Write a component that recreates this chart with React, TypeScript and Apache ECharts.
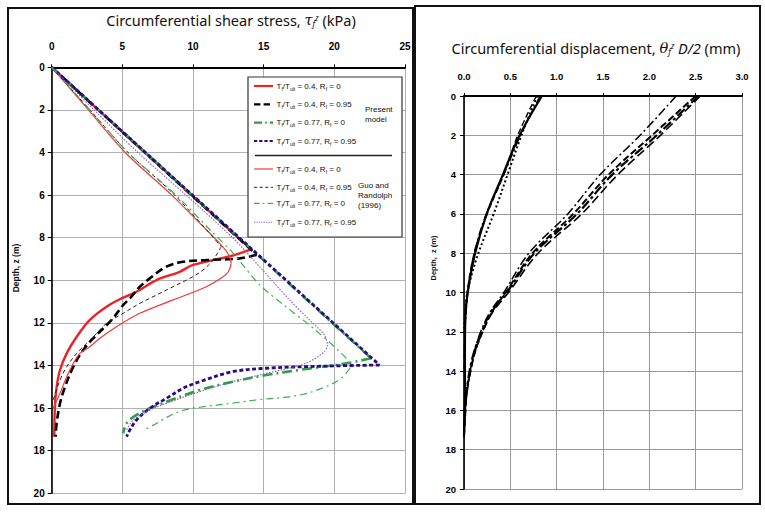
import React, { useEffect, useRef } from "react";
import * as echarts from "echarts";

// ---------- axis ranges ----------
const shearMin = 0, shearMax = 25, shearStep = 5;
const dispMin = 0, dispMax = 3, dispStep = 0.5;
const depthMin = 0, depthMax = 20, depthStep = 2;

// ---------- left panel: circumferential shear stress [tau (kPa), depth (m)] ----------
const present04Rf0 = [[0,0],[14.1,8.55],[12.7,8.86],[10.0,9.28],[9.06,9.6],[7.42,9.99],[6.0,10.54],[4.94,10.85],[3.88,11.24],[2.7,11.86],[1.77,12.65],[1.06,13.43],[0.59,14.21],[0.35,15.0],[0.23,15.93],[0.18,17.34]];
const present04Rf095 = [[0,0],[14.5,8.8],[13.3,8.97],[11.0,9.05],[9.29,9.13],[8.12,9.36],[6.94,9.91],[6.24,10.3],[5.53,10.85],[5.06,11.16],[4.24,11.86],[2.94,12.72],[2.23,13.27],[1.53,14.06],[0.94,15.0],[0.59,15.77],[0.35,16.71],[0.28,17.34]];
const present077Rf0 = [[0,0],[22.6,13.66],[20.83,13.9],[17.53,14.21],[15.18,14.45],[12.82,14.76],[10.47,15.15],[8.12,15.7],[6.94,16.01],[6.0,16.32],[5.3,16.71],[5.06,17.18]];
const present077Rf095 = [[0,0],[23.2,13.98],[19.9,14.02],[15.18,14.13],[12.82,14.29],[10.47,14.76],[9.29,15.07],[8.12,15.54],[6.94,16.01],[6.0,16.56],[5.53,17.03],[5.3,17.34]];
const guo04Rf0 = [[0,0],[2.6,2],[5.2,4],[8.5,6],[10.3,7.2],[12.1,8.42],[12.59,8.89],[12.71,9.2],[12.5,9.6],[12.1,9.85],[10.95,10.3],[8.59,10.92],[6.24,11.55],[4.59,12.18],[3.41,12.72],[2.7,13.12],[2.0,13.43],[1.53,13.9],[1.06,14.53],[0.59,15.3],[0.11,16.0]];
const guo04Rf095 = [[0,0],[2.7,2],[5.4,4],[8.7,6],[12.0,8.42],[11.41,9.05],[10.7,9.52],[9.77,9.91],[8.59,10.3],[7.42,10.69],[6.24,11.08],[5.06,11.55],[3.88,12.02],[3.18,12.49],[2.47,12.96],[1.77,13.43],[1.06,14.06],[0.59,14.68],[0.11,15.62],[0,15.9]];
const guo077Rf0 = [[0,0],[2.7,2],[5.4,4],[8.8,6],[11.3,7.7],[12.8,8.7],[14.7,10.2],[16.5,11.2],[18.6,12.3],[20.95,13.74],[21.1,14.13],[20.4,14.65],[19.0,15.1],[17.8,15.35],[16.4,15.5],[14.7,15.6],[12.8,15.77],[10.5,15.96],[9.3,16.1],[8.1,16.45],[7.2,16.8],[6.5,17.03]];
const guo077Rf095 = [[0,0],[3.0,2],[6.1,4],[9.5,6],[12.8,8],[14.9,9.5],[16.8,10.9],[18.24,11.86],[19.3,12.57],[19.53,13.04],[19.3,13.35],[18.24,13.82],[17.06,14.08],[15.18,14.37],[12.82,14.76],[10.47,15.23],[8.12,15.77],[6.94,16.1],[5.77,16.56],[5.3,17.03]];

// legend text pieces
const ratioLabels = ["0.4", "0.4", "0.77", "0.77", "0.4", "0.4", "0.77", "0.77"];
const rfLabels = ["0", "0.95", "0", "0.95", "0", "0.95", "0", "0.95"];
const groupLabels = [["Present", "model"], ["Guo and", "Randolph", "(1996)"]];

// ---------- right panel: circumferential displacement [mm, depth (m)] ----------
const dispSolid04 = [[0.84,0],[0.6,2],[0.42,4],[0.245,6],[0.12,8],[0.04,10],[0.015,11.3],[0.01,13],[0.01,15],[0.0,17.3]];
const dispDotted04 = [[0.79,0],[0.62,2],[0.47,4],[0.32,6],[0.155,8],[0.06,9.5],[0.02,10.5],[0.0,12]];
const dispDashed04 = [[0.78,0],[0.58,2],[0.43,4],[0.25,6],[0.11,8],[0.035,10],[0.01,12],[0.0,14]];
const dispDashDot04 = [[0.82,0],[0.61,2],[0.43,4],[0.24,6],[0.11,8],[0.04,10],[0.01,12]];
const dispDashDot077 = [[2.29,0],[1.9,2],[1.47,4],[1.12,6],[0.7,8],[0.43,10],[0.28,11],[0.18,12],[0.1,13.2],[0.05,14.5],[0.02,15.5],[0.0,17.2]];
const dispDashed077 = [[2.5,0],[2.03,2],[1.56,4],[1.18,6],[0.74,8],[0.45,10],[0.3,11],[0.2,12],[0.12,13],[0.07,14],[0.03,15],[0.01,16.5],[0.0,17.3]];
const dispDashDot2077 = [[2.53,0],[2.08,2],[1.6,4],[1.22,6],[0.76,8],[0.46,10],[0.29,11],[0.19,12],[0.11,13],[0.06,14],[0.03,15],[0.01,16]];
const dispLong077 = [[2.55,0],[2.12,2],[1.66,4],[1.27,6],[0.8,8],[0.48,10],[0.31,11],[0.2,12],[0.12,13],[0.07,14],[0.035,15],[0.015,16],[0.0,17.4]];

type Sty = { color: string; width: number; type: any };

const leftCurves: { data: number[][]; s: Sty }[] = [
  { data: present04Rf0, s: { color: "#e8242a", width: 2.4, type: "solid" } },
  { data: present04Rf095, s: { color: "#000000", width: 2.6, type: [8, 4] } },
  { data: present077Rf0, s: { color: "#2ea043", width: 2.6, type: [10, 4, 2, 4] } },
  { data: present077Rf095, s: { color: "#2b0c80", width: 2.8, type: [4, 2.5] } },
  { data: guo04Rf0, s: { color: "#ee3a3a", width: 1.2, type: "solid" } },
  { data: guo04Rf095, s: { color: "#222222", width: 1, type: [4, 3] } },
  { data: guo077Rf0, s: { color: "#39b04f", width: 1.2, type: [7, 4, 2, 4] } },
  { data: guo077Rf095, s: { color: "#8a55c8", width: 1.1, type: [1.5, 1.5] } },
];

const rightCurves: { data: number[][]; s: Sty }[] = [
  { data: dispSolid04, s: { color: "#000", width: 2.2, type: "solid" } },
  { data: dispDotted04, s: { color: "#000", width: 2, type: [2, 2.5] } },
  { data: dispDashed04, s: { color: "#000", width: 1.4, type: [6, 3] } },
  { data: dispDashDot04, s: { color: "#000", width: 1.4, type: [8, 3, 2, 3] } },
  { data: dispDashDot077, s: { color: "#000", width: 1.5, type: [9, 3, 2, 3] } },
  { data: dispDashed077, s: { color: "#000", width: 2, type: [7, 3] } },
  { data: dispDashDot2077, s: { color: "#000", width: 2.2, type: [10, 3, 3, 3] } },
  { data: dispLong077, s: { color: "#000", width: 1.6, type: [9, 4] } },
];

function peakIndex(d: number[][]) {
  let k = 0;
  d.forEach((p, i) => { if (p[0] > d[k][0]) k = i; });
  return k;
}

function lineSeries(data: number[][], s: Sty, axis: number, smooth: number) {
  return {
    type: "line",
    xAxisIndex: axis,
    yAxisIndex: axis,
    data,
    symbol: "none",
    showSymbol: false,
    smooth,
    silent: true,
    lineStyle: { color: s.color, width: s.width, type: s.type },
  };
}

const LG = { left: 51.7, top: 67.3, width: 353.3, height: 426 };
const RG = { left: 464, top: 96, width: 278, height: 393 };

const tickFont = "'Liberation Sans', Arial, sans-serif";
const narrowFont = "'Liberation Sans Narrow', 'Liberation Sans', Arial, sans-serif";
const titleFont = "'Noto Sans', 'Open Sans', sans-serif";

function xAxisCfg(grid: number, min: number, max: number, step: number, fmt: (v: number) => string, font: string, fs: number, margin: number, gridColor: string) {
  return {
    gridIndex: grid, type: "value", position: "top", min, max, interval: step,
    axisLine: { show: true, lineStyle: { color: "#000", width: 2 } },
    axisTick: { show: true, length: 3, inside: false, lineStyle: { color: "#000", width: 1 } },
    axisLabel: { formatter: fmt, fontSize: fs, fontWeight: "bold", color: "#000", margin, fontFamily: font },
    splitLine: { show: true, lineStyle: { color: gridColor, width: 1 } },
  };
}
function yAxisCfg(grid: number, font: string, fs: number, margin: number, gridColor: string) {
  return {
    gridIndex: grid, type: "value", inverse: true, min: depthMin, max: depthMax, interval: depthStep,
    axisLine: { show: true, onZero: false, lineStyle: { color: "#000", width: 1.6 } },
    axisTick: { show: true, length: 4, lineStyle: { color: "#000" } },
    axisLabel: { fontSize: fs, fontWeight: "bold", color: "#000", margin, fontFamily: font },
    splitLine: { show: true, lineStyle: { color: gridColor, width: 1 } },
  };
}

const legRich = {
  n: { fontSize: 8, fontFamily: tickFont, fill: "#111", lineHeight: 10, verticalAlign: "middle" },
  s: { fontSize: 5, fontFamily: tickFont, fill: "#111", lineHeight: 10, verticalAlign: "bottom" },
};
const titleRich = {
  n: { fontSize: 14.5, fontFamily: titleFont, fill: "#111", lineHeight: 18 },
  i: { fontSize: 14.5, fontFamily: "'DejaVu Serif', serif", fontStyle: "italic", fill: "#111", lineHeight: 18 },
  s: { fontSize: 8, fontFamily: titleFont, fontStyle: "italic", fill: "#111", lineHeight: 18, verticalAlign: "bottom", padding: [0, 0, 2, 0] },
  u: { fontSize: 8, fontFamily: titleFont, fontStyle: "italic", fill: "#111", lineHeight: 18, verticalAlign: "top", padding: [2, 0, 0, 0] },
  d: { fontSize: 14.5, fontFamily: titleFont, fontStyle: "italic", fill: "#111", lineHeight: 18 },
};

function buildLegend() {
  const els: any[] = [];
  const bx = 248, by = 77, bw = 154, bh = 160;
  els.push({ type: "rect", shape: { x: bx, y: by, width: bw, height: bh }, style: { fill: "#fff", stroke: "#333", lineWidth: 1.2 }, z: 100 });
  const rowY = [86, 104.3, 122.7, 141, 169, 187.3, 203.3, 222.3];
  leftCurves.forEach((c, i) => {
    els.push({
      type: "line", shape: { x1: 254, y1: rowY[i], x2: 273, y2: rowY[i] },
      style: { stroke: c.s.color, lineWidth: Math.min(c.s.width, 2.2), lineDash: c.s.type === "solid" ? null : c.s.type.map((v: number) => v * 0.8) }, z: 101,
    });
    els.push({
      type: "text", x: 276.5, y: rowY[i], z: 101,
      style: {
        text: `{n|T}{s|f}{n|/T}{s|ult}{n| = ${ratioLabels[i]}, R}{s|f}{n| = ${rfLabels[i]}}`,
        rich: legRich, verticalAlign: "middle", align: "left",
      },
    });
  });
  els.push({ type: "line", shape: { x1: 255, y1: 155.5, x2: 392, y2: 155.5 }, style: { stroke: "#222", lineWidth: 1.4 }, z: 101 });
  els.push({ type: "text", x: 365, y: 114, z: 101, style: { text: groupLabels[0].join("\n"), font: `8px ${tickFont}`, fill: "#111", lineHeight: 10, align: "left", verticalAlign: "middle" } });
  els.push({ type: "text", x: 358, y: 195, z: 101, style: { text: groupLabels[1].join("\n"), font: `8px ${tickFont}`, fill: "#111", lineHeight: 10, align: "left", verticalAlign: "middle" } });
  return els;
}

export default function App() {
  const ref = useRef<HTMLDivElement>(null);
  useEffect(() => {
    if (!ref.current) return;
    const chart = echarts.init(ref.current, null, { renderer: "svg" });
    const series: any[] = [];
    leftCurves.forEach((c) => {
      const k = peakIndex(c.data);
      series.push(lineSeries(c.data.slice(0, k + 1), c.s, 0, c.data.slice(0, k + 1).length > 2 ? 0.3 : 0));
      series.push(lineSeries(c.data.slice(k), c.s, 0, 0.35));
    });
    rightCurves.forEach((c) => series.push(lineSeries(c.data, c.s, 1, 0.35)));

    const graphic: any[] = [
      { type: "rect", shape: { x: 8, y: 8, width: 405, height: 496 }, style: { fill: "none", stroke: "#111", lineWidth: 2 }, z: 50 },
      { type: "rect", shape: { x: 415, y: 6, width: 345, height: 498 }, style: { fill: "none", stroke: "#111", lineWidth: 2 }, z: 50 },
      {
        type: "text", x: 231, y: 20, z: 60,
        style: { text: "{n|Circumferential shear stress, }{i|τ}{s|f}{u|z}{n| (kPa)}", rich: titleRich, align: "center", verticalAlign: "middle" },
      },
      {
        type: "text", x: 596, y: 48, z: 60,
        style: { text: "{n|Circumferential displacement, }{i|θ}{s|f}{u|z}{d| D/2}{n| (mm)}", rich: titleRich, align: "center", verticalAlign: "middle" },
      },
      {
        type: "text", x: 16, y: 268, rotation: Math.PI / 2, z: 60,
        style: { text: "Depth, z (m)", font: `bold 8.5px ${tickFont}`, fill: "#111", align: "center", verticalAlign: "middle" },
      },
      {
        type: "text", x: 433, y: 258, rotation: Math.PI / 2, z: 60,
        style: { text: "Depth,  z (m)", font: `bold 7.5px ${narrowFont}`, fill: "#111", align: "center", verticalAlign: "middle" },
      },
      ...buildLegend(),
    ];

    chart.setOption({
      animation: false,
      backgroundColor: "#ffffff",
      grid: [
        { ...LG, containLabel: false },
        { ...RG, containLabel: false },
      ],
      xAxis: [
        xAxisCfg(0, shearMin, shearMax, shearStep, (v) => String(v), tickFont, 10, 16, "#b0b0b0"),
        xAxisCfg(1, dispMin, dispMax, dispStep, (v) => v.toFixed(1), narrowFont, 9.5, 15, "#9a9a9a"),
      ],
      yAxis: [yAxisCfg(0, tickFont, 10, 7, "#b0b0b0"), yAxisCfg(1, narrowFont, 9.5, 8, "#9a9a9a")],
      series,
      graphic,
    });
    return () => chart.dispose();
  }, []);
  return <div ref={ref} style={{ position: "fixed", left: 0, top: 0, width: 765, height: 514, background: "#fff" }} />;
}
